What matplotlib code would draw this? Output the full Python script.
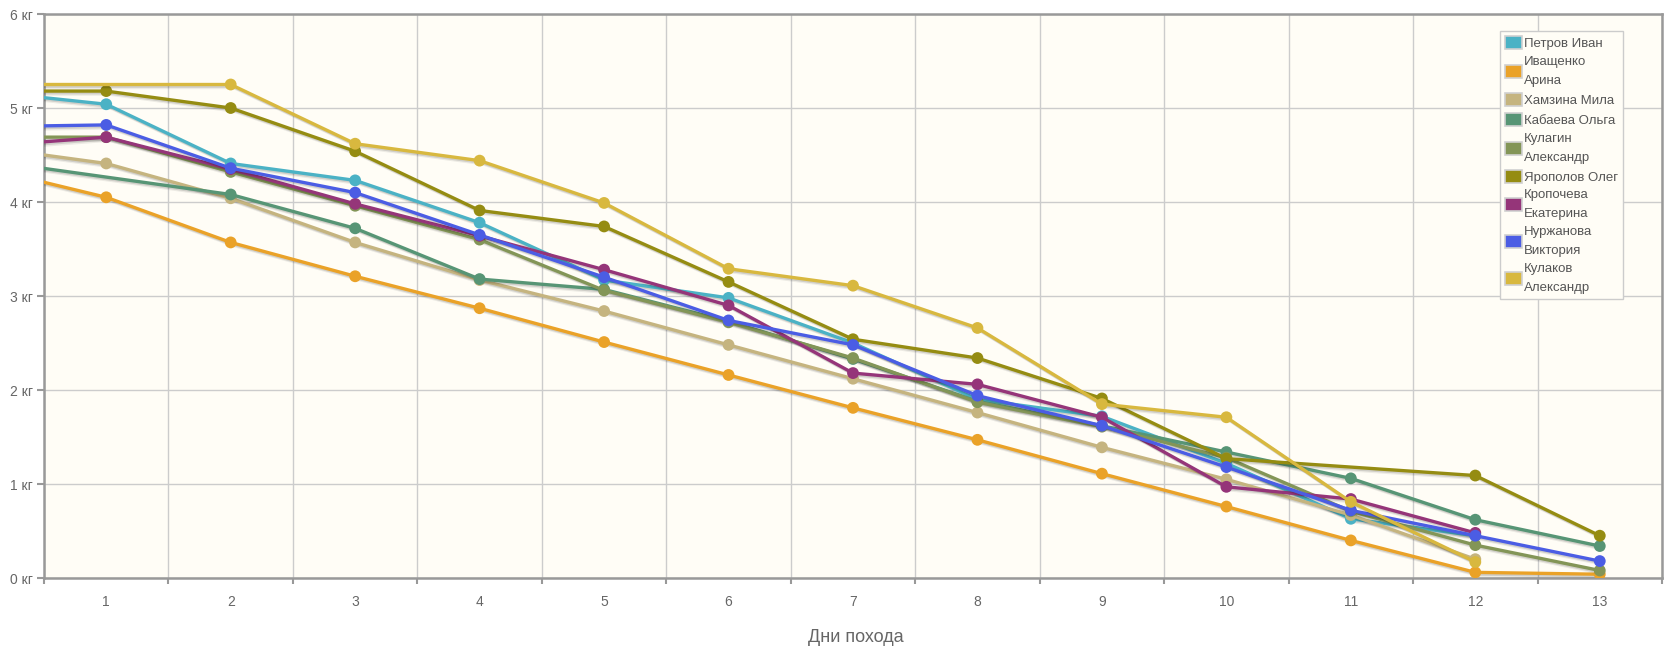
import numpy as np
import matplotlib
matplotlib.use('Agg')
import matplotlib.pyplot as plt
import matplotlib.patheffects as pe
from matplotlib.patches import Patch

plt.rcParams['font.family'] = ['Liberation Sans', 'DejaVu Sans']

nan = float('nan')
# day 0 = starting weight (lies outside the visible range, the line enters from the left edge)
days = list(range(0, 14))
day_labels = [str(d) for d in range(1, 14)]
y_ticks = [0, 1, 2, 3, 4, 5, 6]
y_tick_labels = [f"{v} кг" for v in y_ticks]

names = ["Петров Иван", "Иващенко\nАрина", "Хамзина Мила", "Кабаева Ольга",
         "Кулагин\nАлександр", "Ярополов Олег", "Кропочева\nЕкатерина",
         "Нуржанова\nВиктория", "Кулаков\nАлександр"]

petrov      = [5.18, 5.04, 4.41, 4.23, 3.78, 3.17, 2.98, 2.50, 1.90, 1.72, 1.22, 0.63, 0.45, nan]
ivashchenko = [4.37, 4.05, 3.57, 3.21, 2.87, 2.51, 2.16, 1.81, 1.47, 1.11, 0.76, 0.40, 0.06, 0.04]
khamzina    = [4.59, 4.41, 4.04, 3.57, 3.17, 2.84, 2.48, 2.12, 1.76, 1.39, 1.05, 0.67, 0.20, nan]
kabaeva     = [4.45, nan, 4.08, 3.72, 3.18, 3.07, 2.73, 2.33, 1.88, 1.62, 1.34, 1.06, 0.62, 0.34]
kulagin     = [4.69, 4.69, 4.32, 3.96, 3.60, 3.06, 2.72, 2.34, 1.87, 1.61, 1.28, 0.71, 0.35, 0.08]
yaropolov   = [5.18, 5.18, 5.00, 4.54, 3.91, 3.74, 3.15, 2.54, 2.34, 1.91, 1.27, nan, 1.09, 0.45]
kropocheva  = [4.59, 4.69, 4.35, 3.98, 3.64, 3.28, 2.90, 2.18, 2.06, 1.71, 0.97, 0.84, 0.48, nan]
nurzhanova  = [4.80, 4.82, 4.36, 4.10, 3.65, 3.20, 2.74, 2.48, 1.94, 1.62, 1.18, 0.72, 0.45, 0.18]
kulakov     = [5.25, nan, 5.25, 4.62, 4.44, 3.99, 3.29, 3.11, 2.66, 1.85, 1.71, 0.81, 0.17, nan]

series = [petrov, ivashchenko, khamzina, kabaeva, kulagin, yaropolov, kropocheva, nurzhanova, kulakov]
colors = ["#4bb2c5", "#EAA228", "#c5b47f", "#579575", "#839557",
          "#958c12", "#953579", "#4b5de4", "#d8b83f"]

W, H = 1680, 655
fig = plt.figure(figsize=(W / 100, H / 100), dpi=100)
x0, x1, y_top, y_bot = 44, 1662, 14, 578
ax = fig.add_axes([x0 / W, 1 - y_bot / H, (x1 - x0) / W, (y_bot - y_top) / H])
ax.set_facecolor('#fffdf6')

shadow = [pe.SimpleLineShadow(offset=(1.2, -1.2), shadow_color='k', alpha=0.12),
          pe.SimpleLineShadow(offset=(2.2, -2.2), shadow_color='k', alpha=0.07),
          pe.Normal()]

x_arr = np.array(days, dtype=float)
for vals, col in zip(series, colors):
    v = np.array(vals, dtype=float)
    m = ~np.isnan(v)
    ax.plot(x_arr[m], v[m], color=col, lw=2.4, marker='o', ms=8.5,
            markeredgewidth=0, solid_joinstyle='round', path_effects=shadow, zorder=3)

ax.set_xlim(0.5, 13.5)
ax.set_ylim(0, 6)

# grid lines at category boundaries and at each kg
ax.set_xticks(np.arange(0.5, 14, 1))
ax.set_xticklabels([])
ax.set_xticks(days[1:], minor=True)
ax.set_xticklabels(day_labels, minor=True)
ax.set_yticks(y_ticks)
ax.set_yticklabels(y_tick_labels)
ax.grid(True, which='major', color='#cccccc', lw=1.0, zorder=0)
ax.set_axisbelow(True)

ax.tick_params(axis='x', which='major', length=4, width=1.5, color='#999999', direction='out')
ax.tick_params(axis='x', which='minor', length=0, pad=12, labelsize=10, labelcolor='#666666')
ax.tick_params(axis='y', which='major', length=5, width=1.5, color='#999999', pad=3,
               labelsize=10, labelcolor='#666666')

for s in ax.spines.values():
    s.set_color('#999999')
    s.set_linewidth(1.8)

ax.set_xlabel('Дни похода', fontsize=13, color='#666666')
ax.xaxis.label.set_va('center')
ax.xaxis.set_label_coords(0.502, -(638 - y_bot) / (y_bot - y_top))

handles = [Patch(facecolor=c, edgecolor='#d0d0d0', linewidth=1.2) for c in colors]
leg = ax.legend(handles, names, loc='upper right',
                bbox_to_anchor=(1623 / W, 1 - 31 / H), bbox_transform=fig.transFigure,
                fontsize=9.5, frameon=True, fancybox=False, framealpha=1,
                facecolor='#fffdf6', edgecolor='#cccccc', borderpad=0.4,
                labelspacing=0.45, handlelength=1.25, handleheight=1.15,
                handletextpad=0.15, borderaxespad=0)
leg.get_frame().set_linewidth(1.0)
for t in leg.get_texts():
    t.set_color('#555555')
    t.set_linespacing(1.75)

fig.savefig('out.png', dpi=100, facecolor='white')
